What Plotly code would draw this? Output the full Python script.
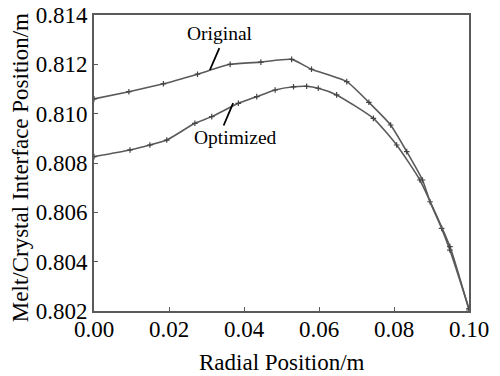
import plotly.graph_objects as go

orig_x = [0.000, 0.0093, 0.0185, 0.0276, 0.0363, 0.0445, 0.0527, 0.0580, 0.0674, 0.0733, 0.0791, 0.0834, 0.0876, 0.0896, 0.0927, 0.0949, 0.1000]
orig_y = [0.8106, 0.81089, 0.81121, 0.81160, 0.81200, 0.81209, 0.81220, 0.81180, 0.81130, 0.81046, 0.80954, 0.80846, 0.80731, 0.80643, 0.80535, 0.80447, 0.80210]

opt_x = [0.000, 0.0096, 0.0149, 0.0194, 0.0269, 0.0314, 0.0385, 0.0434, 0.0483, 0.0532, 0.0567, 0.0598, 0.0647, 0.0745, 0.0807, 0.0869, 0.0949, 0.1000]
opt_y = [0.80826, 0.80853, 0.80873, 0.80893, 0.80961, 0.80988, 0.81042, 0.81069, 0.81096, 0.81109, 0.81111, 0.81103, 0.81076, 0.80981, 0.80873, 0.80731, 0.80461, 0.80204]

x_ticks = [0.00, 0.02, 0.04, 0.06, 0.08, 0.10]
y_ticks = [0.802, 0.804, 0.806, 0.808, 0.810, 0.812, 0.814]

x_title = "Radial Position/m"
y_title = "Melt/Crystal Interface Position/m"

font = "Liberation Serif"
line_col = "#5a5a5a"

fig = go.Figure()
for xs, ys in [(orig_x, orig_y), (opt_x, opt_y)]:
    fig.add_trace(go.Scatter(
        x=xs, y=ys, mode="lines+markers",
        line=dict(color=line_col, width=1.6, shape="spline", smoothing=0.5),
        marker=dict(symbol="cross-thin", size=4, color="#444", line=dict(width=1.2, color="#444")),
        showlegend=False,
    ))

fig.add_annotation(x=0.0336, y=0.81327, text="Original", showarrow=False,
                   font=dict(family=font, size=19.5, color="black"))
fig.add_annotation(x=0.0309, y=0.81177, ax=0.0336, ay=0.81272, axref="x", ayref="y",
                   xref="x", yref="y", text="", showarrow=True,
                   arrowhead=0, arrowwidth=1.8, arrowcolor="black")
fig.add_annotation(x=0.0378, y=0.80905, text="Optimized", showarrow=False,
                   font=dict(family=font, size=19.5, color="black"))
fig.add_annotation(x=0.0371, y=0.81043, ax=0.0344, ay=0.80946, axref="x", ayref="y",
                   xref="x", yref="y", text="", showarrow=True,
                   arrowhead=0, arrowwidth=1.8, arrowcolor="black")

# axis titles
fig.add_annotation(x=0.501, y=-0.174, xref="paper", yref="paper", text=x_title, showarrow=False,
                   xanchor="center", yanchor="middle", font=dict(family=font, size=23, color="black"))
fig.add_annotation(x=-0.197, y=0.483, xref="paper", yref="paper", text=y_title, showarrow=False,
                   textangle=-90, xanchor="center", yanchor="middle",
                   font=dict(family=font, size=23, color="black"))

fig.update_xaxes(range=[0, 0.1], tickvals=x_ticks, ticktext=[f"{v:.2f}" for v in x_ticks],
                 ticks="inside", ticklen=4, tickcolor=line_col, showgrid=False, zeroline=False,
                 showline=True, linecolor=line_col, linewidth=2, mirror=True, automargin=False,
                 ticklabelstandoff=-4,
                 tickfont=dict(family=font, size=23, color="black"))
fig.update_yaxes(range=[0.802, 0.814], tickvals=y_ticks, ticktext=[f"{v:.3f}" for v in y_ticks],
                 ticks="inside", ticklen=4, tickcolor=line_col, showgrid=False, zeroline=False,
                 showline=True, linecolor=line_col, linewidth=2, mirror=True, automargin=False,
                 tickfont=dict(family=font, size=23, color="black"))

fig.update_layout(width=500, height=376, margin=dict(l=94, r=31, t=15, b=65),
                  font=dict(family=font, color="black"),
                  paper_bgcolor="white", plot_bgcolor="white")
fig.write_html("out.html")
